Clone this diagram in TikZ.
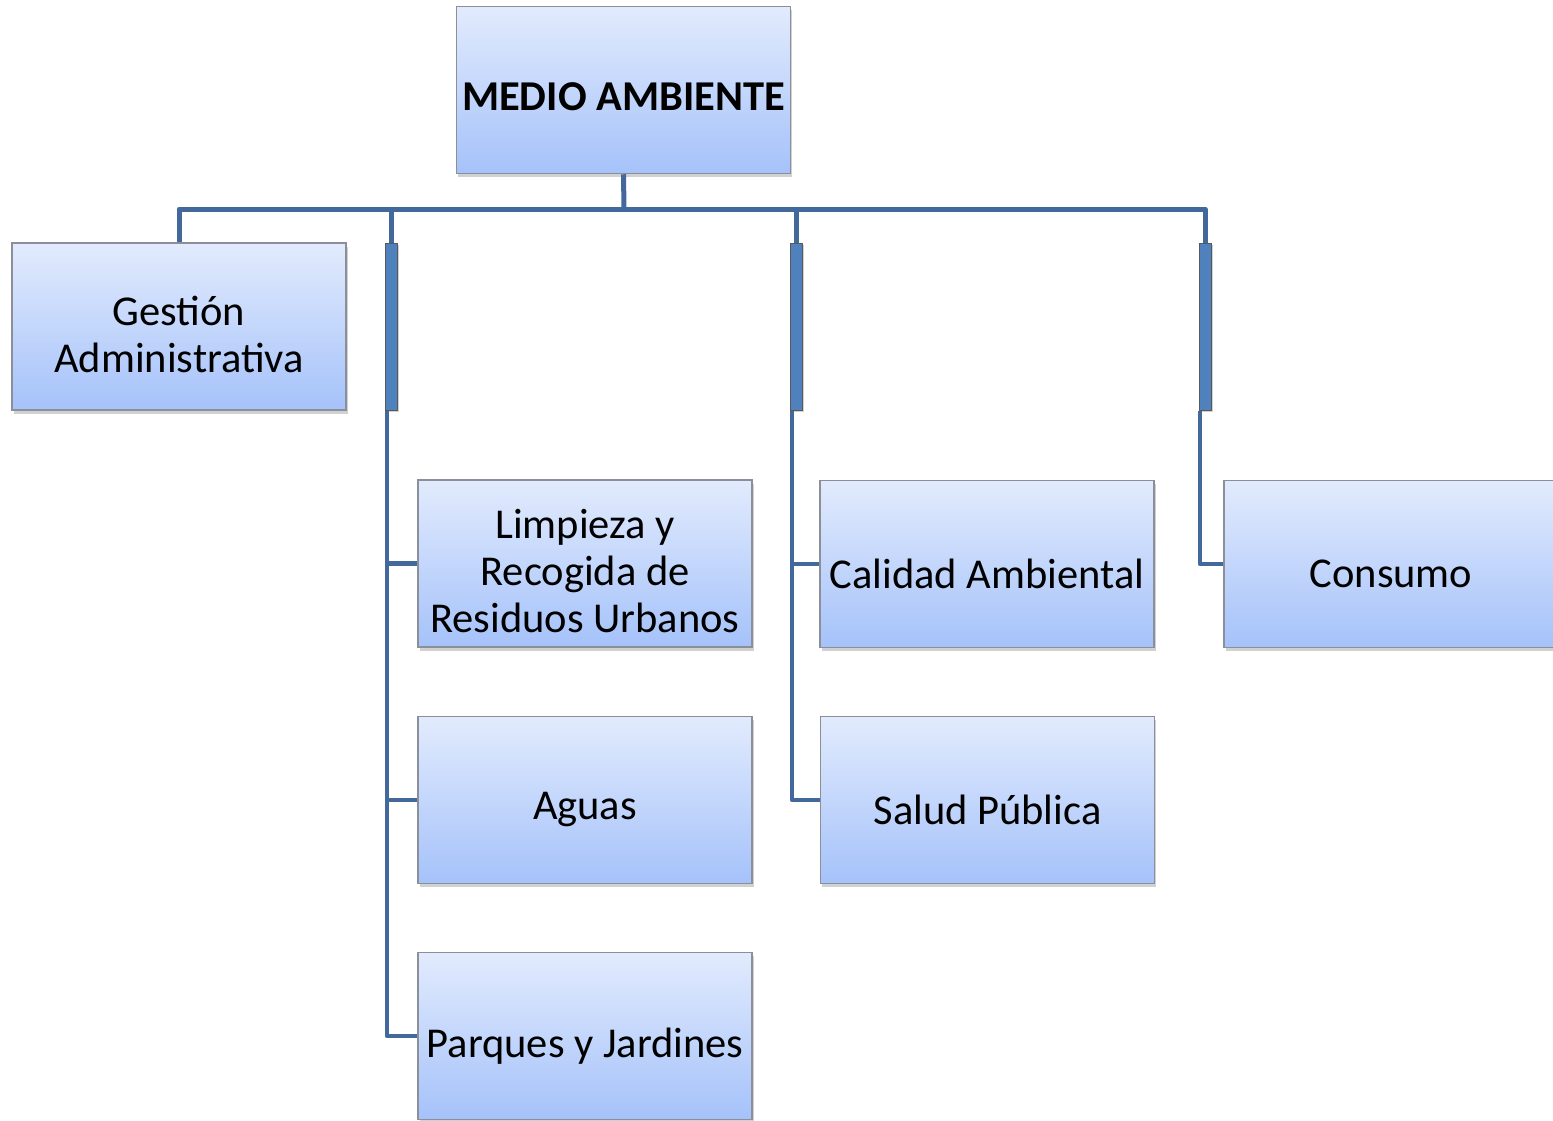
\documentclass[tikz,border=0pt]{standalone}
\usepackage{fontspec}
\setmainfont{Carlito}
\usetikzlibrary{shadows}
\definecolor{topc}{HTML}{E2EBFD}
\definecolor{botc}{HTML}{A5C2FA}
\definecolor{edgec}{HTML}{8A8F99}
\definecolor{linec}{HTML}{43699C}
\definecolor{barc}{HTML}{4F81BD}
\pgfdeclarelayer{background}
\pgfsetlayers{background,main}
\begin{document}
\begin{tikzpicture}[x=1pt,y=-1pt,
  box/.style={draw=edgec, line width=1.5pt, top color=topc, bottom color=botc,
    minimum width=334pt, minimum height=167pt, inner sep=0pt,
    drop shadow={shadow xshift=1.5pt, shadow yshift=-3.5pt, opacity=0.3, fill=black!60}},
  txt/.style={inner sep=0pt, align=center, font=\fontsize{42.5}{47}\selectfont},
  stripe/.style={draw=black!65, line width=1pt, fill=barc, minimum width=12pt,
    minimum height=167pt, inner sep=0pt,
    drop shadow={shadow xshift=1.5pt, shadow yshift=-2pt, opacity=0.3, fill=black!60}},
  conn/.style={draw=linec, line width=5pt, line join=round},
  branch/.style={draw=linec, line width=4.5pt, line join=round}]
\useasboundingbox (0,0) rectangle (1553,1120);
\node[box] (top) at (623.5,90) {};
\node[box] (ges) at (179,326.5) {};
\node[stripe] (b1) at (391,326.5) {};
\node[stripe] (b2) at (796,326.5) {};
\node[stripe] (b3) at (1205,326.5) {};
\node[box] (lim) at (585,563.5) {};
\node[box] (agu) at (585,800) {};
\node[box] (par) at (585,1036) {};
\node[box] (cal) at (987,564) {};
\node[box] (sal) at (987.5,800) {};
\node[box] (con) at (1391,564) {};
\node[txt, font=\fontsize{42.5}{47}\selectfont\bfseries] (topt) at ([yshift=-7pt]top.center) {MEDIO AMBIENTE};
\node[txt] (gest) at ([yshift=-8pt]ges.center) {Gestión\\Administrativa};
\node[txt] (limt) at ([yshift=-8pt]lim.center) {Limpieza y\\Recogida de\\Residuos Urbanos};
\node[txt] (agut) at ([yshift=-10pt]agu.center) {Aguas};
\node[txt] (part) at ([yshift=-10pt]par.center) {Parques y Jardines};
\node[txt] (calt) at ([yshift=-10pt]cal.center) {Calidad Ambiental};
\node[txt] (salt) at ([yshift=-10pt]sal.center) {Salud Pública};
\node[txt] (cont) at ([yshift=-10pt]con.center) {Consumo};
\coordinate (bus) at (624,209);
\begin{pgfonlayer}{background}
\draw[conn] (top.south) -- (bus);
\draw[conn] (ges.north) |- (bus) -| (b3.north);
\draw[conn] (b1.north) -- (b1.north |- bus);
\draw[conn] (b2.north) -- (b2.north |- bus);
\draw[branch] ([xshift=-4pt]b1.south) |- (lim.west);
\draw[branch] ([xshift=-4pt]b1.south) |- (agu.west);
\draw[branch] ([xshift=-4pt]b1.south) |- (par.west);
\draw[branch] ([xshift=-4pt]b2.south) |- (cal.west);
\draw[branch] ([xshift=-4pt]b2.south) |- (sal.west);
\draw[branch] ([xshift=-5pt]b3.south) |- (con.west);
\end{pgfonlayer}
\end{tikzpicture}
\end{document}
